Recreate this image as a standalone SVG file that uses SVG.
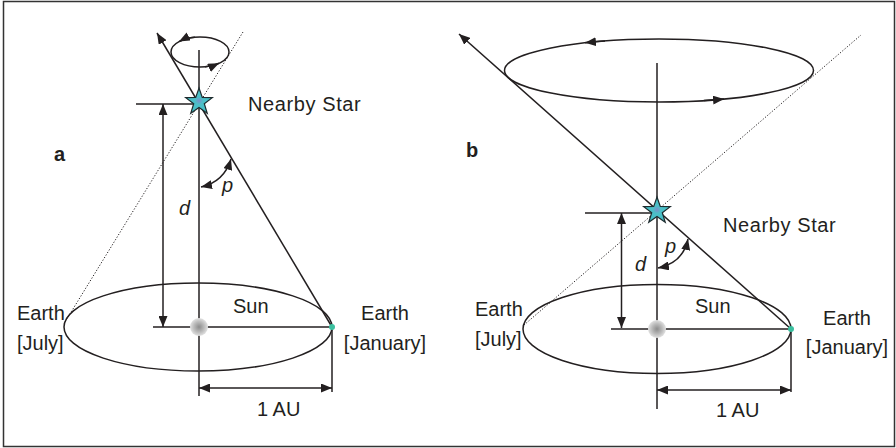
<svg xmlns="http://www.w3.org/2000/svg" width="896" height="448" viewBox="0 0 896 448">
<defs>
<marker id="ah" viewBox="0 0 11 9" refX="11" refY="4.5" markerWidth="11" markerHeight="9" markerUnits="userSpaceOnUse" orient="auto-start-reverse"><path d="M0,0 L11,4.5 L0,9 z" fill="#231f20"/></marker>
<radialGradient id="sunG"><stop offset="0" stop-color="#8c8c8c"/><stop offset="0.6" stop-color="#bdbdbd"/><stop offset="1" stop-color="#e2e2e2"/></radialGradient>
<radialGradient id="starG"><stop offset="0" stop-color="#7b8fc9"/><stop offset="0.3" stop-color="#4cbfc8"/><stop offset="1" stop-color="#43c0c6"/></radialGradient>
<path id="starShape" d="M0,-14 L3.3,-4.5 L13.31,-4.33 L5.3,1.75 L8.23,11.33 L0,5.6 L-8.23,11.33 L-5.3,1.75 L-13.31,-4.33 L-3.3,-4.5 Z"/>
</defs>
<style>
.ln{fill:none;stroke:#231f20;stroke-width:1.5}
.dot{fill:none;stroke:#231f20;stroke-width:1;stroke-dasharray:1.2 1.8}
.arr{marker-end:url(#ah)}
.arr2{marker-start:url(#ah);marker-end:url(#ah)}
.t{font-family:"Liberation Sans",Arial,sans-serif;font-size:20px;fill:#231f20}
.w{letter-spacing:0.6px}
.i{font-style:italic}
.b{font-weight:bold;font-size:20px}
.m{text-anchor:middle}
.star{fill:url(#starG);stroke:#1d2b2e;stroke-width:1.2}
.sun{fill:url(#sunG)}
.earth{fill:#3bbf9f}
</style>
<rect id="frame" x="3.5" y="1.5" width="891" height="445" fill="#ffffff" stroke="#333333" stroke-width="1.5"/>

<g id="connectors">
  <!-- panel a -->
  <line class="ln" x1="199" y1="50" x2="199" y2="396"/>
  <ellipse class="ln" cx="200" cy="52" rx="29" ry="15"/>
  <path class="ln arr" d="M195,37.2 A29 15 0 0 0 179,41.6"/>
  <path class="ln arr" d="M205,66.8 A29 15 0 0 0 219,63.3"/>
  <line class="ln" x1="136" y1="104" x2="199" y2="104"/>
  <line class="ln arr2" x1="163" y1="104" x2="163" y2="327"/>
  <line class="ln arr" x1="332" y1="327" x2="157" y2="33"/>
  <line class="dot" x1="65" y1="322" x2="243" y2="32"/>
  <path class="ln arr2" d="M201,187 Q224,182 231,159"/>
  <ellipse class="ln" cx="198" cy="327" rx="134" ry="44"/>
  <line class="ln" x1="153" y1="327" x2="332" y2="327"/>
  <line class="ln" x1="332" y1="327" x2="332" y2="392"/>
  <line class="ln arr2" x1="199" y1="388" x2="332" y2="388"/>
  <!-- panel b -->
  <line class="ln" x1="657" y1="63" x2="657" y2="409"/>
  <ellipse class="ln" cx="659" cy="70.5" rx="154.5" ry="31.5"/>
  <path class="ln arr" d="M605,41 A154.5 31.5 0 0 0 585,42.8"/>
  <path class="ln arr" d="M704,100.6 A154.5 31.5 0 0 0 724,99.1"/>
  <line class="ln" x1="585" y1="213" x2="657" y2="213"/>
  <line class="ln arr2" x1="621.5" y1="213" x2="621.5" y2="328"/>
  <line class="ln arr" x1="791" y1="329" x2="459" y2="34"/>
  <line class="dot" x1="524" y1="325" x2="861" y2="35"/>
  <path class="ln arr2" d="M658,268 Q683,263 688,239"/>
  <ellipse class="ln" cx="657" cy="329" rx="134" ry="44.5"/>
  <line class="ln" x1="611" y1="329" x2="791" y2="329"/>
  <line class="ln" x1="791" y1="329" x2="791" y2="392"/>
  <line class="ln arr2" x1="657" y1="390" x2="791" y2="390"/>
</g>

<g id="star-a"><use href="#starShape" class="star" transform="translate(199,102)"/></g>
<g id="sun-a"><circle class="sun" cx="199" cy="327" r="9"/></g>
<g id="earth-jan-a"><circle class="earth" cx="332" cy="327" r="3"/></g>
<g id="star-b"><use href="#starShape" class="star" transform="translate(657,211)"/></g>
<g id="sun-b"><circle class="sun" cx="657" cy="329" r="9"/></g>
<g id="earth-jan-b"><circle class="earth" cx="791" cy="329" r="3"/></g>

<g id="labels-a">
  <text class="t b" x="54" y="161">a</text>
  <text class="t w" x="248" y="111">Nearby Star</text>
  <text class="t i" x="179" y="215">d</text>
  <text class="t i" x="222" y="192">p</text>
  <text class="t" x="17" y="320">Earth</text>
  <text class="t" x="17" y="350">[July]</text>
  <text class="t" x="233" y="313">Sun</text>
  <text class="t m" x="385" y="320">Earth</text>
  <text class="t m" x="385" y="350">[January]</text>
  <text class="t" x="257" y="416">1 AU</text>
</g>
<g id="labels-b">
  <text class="t b" x="466" y="157">b</text>
  <text class="t w" x="723" y="232">Nearby Star</text>
  <text class="t i" x="635" y="271">d</text>
  <text class="t i" x="665" y="253">p</text>
  <text class="t" x="475" y="316">Earth</text>
  <text class="t" x="475" y="346">[July]</text>
  <text class="t" x="695" y="313">Sun</text>
  <text class="t m" x="847" y="325">Earth</text>
  <text class="t m" x="847" y="354">[January]</text>
  <text class="t" x="716" y="417">1 AU</text>
</g>
</svg>
